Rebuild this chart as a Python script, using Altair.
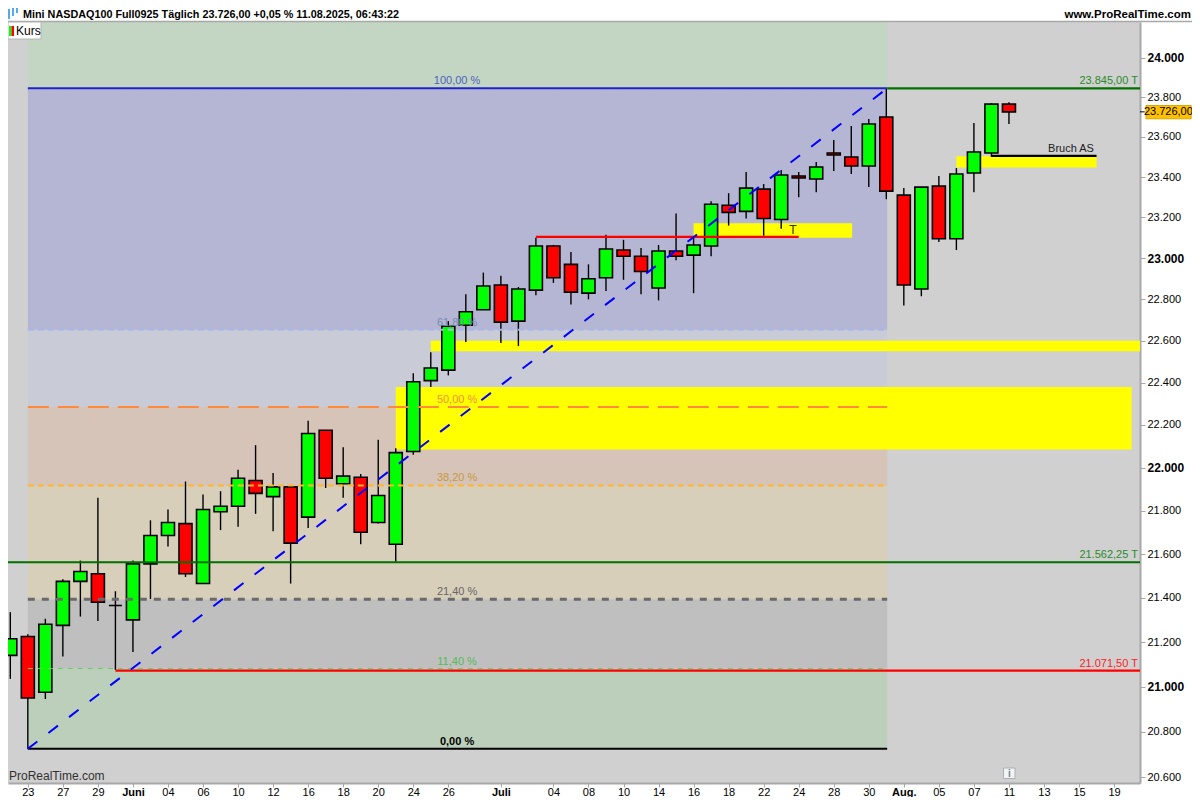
import altair as alt
import pandas as pd

# --- Daily candles ---
opens = [21140,21225,20975,21275,21475,21510,21365,21300,21555,21685,21740,21465,21795,21820,21940,21865,21910,21770,22175,21925,
         21955,21745,21645,22075,22410,22460,22675,22750,22870,22695,22845,23060,22970,22830,22905,23040,23010,22855,23035,23015,
         23060,23260,23230,23340,23190,23405,23390,23520,23500,23455,23700,23310,22850,23355,23095,23420,23520,23765]
highs = [21335,21235,21305,21485,21570,21860,21430,21570,21755,21805,21935,21875,21890,21990,22105,21975,21915,22220,22175,22095,
         21970,22130,22090,22445,22545,22695,22825,22930,22915,22860,23100,23065,23030,22970,23115,23090,23050,23065,23220,23105,
         23280,23320,23425,23365,23435,23425,23475,23585,23655,23690,23845,23345,23350,23405,23445,23670,23770,23775]
lows = [21035,20725,20945,21135,21315,21295,21075,21155,21395,21635,21495,21465,21710,21725,21785,21705,21465,21720,21905,21860,
        21645,21740,21565,22060,22380,22435,22595,22750,22590,22575,22820,22880,22775,22800,22840,22895,22825,22795,22990,22830,
        23010,23160,23195,23110,23145,23300,23325,23430,23415,23350,23290,22770,22815,23080,23040,23325,23500,23665]
closes = [21215,20950,21280,21475,21520,21380,21365,21555,21685,21745,21510,21805,21820,21950,21880,21910,21650,22160,21950,21960,
          21700,21870,22070,22405,22470,22670,22740,22865,22690,22850,23060,22905,22835,22900,23045,23010,22935,23035,23010,23065,
          23265,23225,23345,23195,23410,23395,23450,23510,23455,23665,23330,22870,23350,23095,23415,23525,23765,23726]

# --- Axis ticks ---
x_ticks = [1,3,5,7,9,11,13,15,17,19,21,23,25,28,31,33,35,37,39,41,43,45,47,49,51,53,55,57,59,61,63]
x_labels = ["23","27","29","Juni","04","06","10","12","16","18","20","24","26","Juli","04","08","10","14","16","18","22",
            "24","28","30","Aug.","05","07","11","13","15","19"]
y_ticks = [20600,20800,21000,21200,21400,21600,21800,22000,22200,22400,22600,22800,23000,23200,23400,23600,23800,24000]

# --- Fibonacci retracement ---
fib_low, fib_high = 20725, 23845
fib_left, fib_right = 1, 50.05
fib_edges = [20725, 21081, 21393, 21917, 22285, 22653, 23845, 24183]
fib_fills = ["#bbcfbb", "#bfbfbf", "#d8cfba", "#d6c4b9", "#c9ccd6", "#b5b6d3", "#c3d6c3"]
fib_values = [23845, 22653, 22285, 21917, 21393, 21081, 20725]
fib_names = ["100,00 %", "61,80 %", "50,00 %", "38,20 %", "21,40 %", "11,40 %", "0,00 %"]
fib_colors = ["#2222cc", "#a8b8ea", "#ff8a3c", "#ffb52e", "#6a6a6a", "#66cc66", "#000000"]
fib_widths = [2, 2, 2, 2, 3, 1, 2]
fib_dashes = [[1, 0], [6, 4], [21, 9], [6, 4], [7, 7], [5, 5], [1, 0]]
fib_text = ["#5060c0", "#7888b8", "#f59040", "#c8983c", "#666666", "#55bb55", "#000000"]

# --- Yellow zones ---
zone_x0 = [22, 24, 39, 54]
zone_x1 = [64.0, 64.48, 48.05, 62.0]
zone_lo = [22085, 22550, 23100, 23447]
zone_hi = [22380, 22600, 23172, 23503]

FONT = "Liberation Sans"
sx = alt.Scale(domain=[-0.1313, 64.48], nice=False, zero=False, padding=0)
sy = alt.Scale(type="log", domain=[20575, 24183], nice=False, zero=False)

AX = alt.Axis(
    values=x_ticks,
    labelExpr="{" + ",".join(f'"{t}":"{l}"' for t, l in zip(x_ticks, x_labels)) + "}[datum.value]",
    grid=False, domainColor="#a8a8a8", domainWidth=2, tickColor="#a8a8a8", tickSize=4,
    labelColor="#000000", labelFont=FONT, labelFontSize=11, labelPadding=-1,
    labelFontWeight=alt.expr("indexof([7,28,51],datum.value)>=0?'bold':'normal'"),
    labelOverlap=False, labelFlush=False, title=None)
AY = alt.Axis(
    orient="right", values=y_ticks,
    labelExpr="replace(format(datum.value,',d'),',','.')", grid=False,
    domainColor="#a8a8a8", domainWidth=2, tickColor="#a8a8a8", tickSize=5,
    labelColor="#000000", labelFont=FONT, labelPadding=2,
    labelFontSize=alt.expr("datum.value%1000==0?12:11"),
    labelFontWeight=alt.expr("datum.value%1000==0?'bold':'normal'"),
    labelOverlap=False, labelFlush=False, title=None)

idx = list(range(len(opens)))
candles = pd.DataFrame({"i": idx, "o": opens, "h": highs, "l": lows, "c": closes})
candles["bottom"] = candles[["o", "c"]].min(axis=1)
candles["top"] = candles[["o", "c"]].max(axis=1)
candles["dir"] = ["up" if c >= o else "down" for o, c in zip(opens, closes)]

X = alt.X("i:Q", scale=sx, axis=AX)
Y = alt.Y("y:Q", scale=sy, axis=AY)

layers = []

# fib zones
zones = pd.DataFrame({
    "i": [fib_left] * 7, "i2": [fib_right] * 7,
    "y": fib_edges[:-1], "y2": fib_edges[1:], "fill": fib_fills,
})
layers.append(alt.Chart(zones).mark_rect().encode(
    x=X, x2="i2:Q", y=Y, y2="y2:Q", fill=alt.Fill("fill:N", scale=None)))

# yellow zones
yz = pd.DataFrame({"i": zone_x0, "i2": zone_x1, "y": zone_lo, "y2": zone_hi})
layers.append(alt.Chart(yz).mark_rect(fill="#ffff00").encode(x=X, x2="i2:Q", y=Y, y2="y2:Q"))

# candles
layers.append(alt.Chart(candles).mark_rule(color="#000000", strokeWidth=1.4).encode(
    x=X, y=alt.Y("l:Q", scale=sy, axis=AY), y2="h:Q"))
layers.append(alt.Chart(candles).mark_bar(size=13, stroke="#000000", strokeWidth=1.6, orient="vertical").encode(
    x=X, y=alt.Y("bottom:Q", scale=sy, axis=AY), y2="top:Q",
    fill=alt.Fill("dir:N", scale=alt.Scale(domain=["up", "down"], range=["#00ff00", "#ff0000"]), legend=None)))

# fib lines
for v, col, w, d in zip(fib_values, fib_colors, fib_widths, fib_dashes):
    layers.append(alt.Chart(pd.DataFrame({"i": [fib_left], "i2": [fib_right], "y": [v]})).mark_rule(
        color=col, strokeWidth=w, strokeDash=d).encode(x=X, x2="i2:Q", y=Y))

# horizontal support / resistance lines
hl_x0 = [50.05, -0.1313, 6, 30, 56]
hl_x1 = [64.48, 64.48, 64.48, 45, 62]
hl_y = [23845, 21562.25, 21071.5, 23105, 23505]
hl_col = ["#007000", "#007000", "#ff0000", "#ff0000", "#000000"]
for a, b, v, col in zip(hl_x0, hl_x1, hl_y, hl_col):
    layers.append(alt.Chart(pd.DataFrame({"i": [a], "i2": [b], "y": [v]})).mark_rule(
        color=col, strokeWidth=2.2).encode(x=X, x2="i2:Q", y=Y))

# diagonal trend line
layers.append(alt.Chart(pd.DataFrame({"i": [fib_left, fib_right], "y": [fib_low, fib_high]})).mark_line(
    color="#0000ff", strokeWidth=2, strokeDash=[12, 14]).encode(x=X, y=Y))

# fib labels
for v, name, col in zip(fib_values, fib_names, fib_text):
    layers.append(alt.Chart(pd.DataFrame({"i": [25.5], "y": [v], "t": [name]})).mark_text(
        font=FONT, fontSize=11, color=col, dy=-7, align="center", baseline="middle",
        fontWeight="bold" if name == "0,00 %" else "normal").encode(x=X, y=Y, text="t:N"))

# line labels on the right
r_vals = [23845, 21562.25, 21071.5]
r_text = ["23.845,00 T", "21.562,25 T", "21.071,50 T"]
r_col = ["#2a8a2a", "#2a8a2a", "#ff2020"]
for v, t, col in zip(r_vals, r_text, r_col):
    layers.append(alt.Chart(pd.DataFrame({"i": [64.36], "y": [v], "t": [t]})).mark_text(
        font=FONT, fontSize=11, color=col, dy=-7, align="right", baseline="middle").encode(x=X, y=Y, text="t:N"))
layers.append(alt.Chart(pd.DataFrame({"i": [61.85], "y": [23505], "t": ["Bruch AS"]})).mark_text(
    font=FONT, fontSize=11, color="#202020", dy=-7, align="right", baseline="middle").encode(x=X, y=Y, text="t:N"))
layers.append(alt.Chart(pd.DataFrame({"i": [44.67], "y": [23105], "t": ["T"]})).mark_text(
    font=FONT, fontSize=12, color="#303000", dy=-7, align="center", baseline="middle").encode(x=X, y=Y, text="t:N"))

# last price badge
layers.append(alt.Chart(pd.DataFrame({"i": [64.48], "i2": [64.75], "y": [23726]})).mark_rule(
    color="#000000", strokeWidth=1, clip=False).encode(x=X, x2="i2:Q", y=Y))
layers.append(alt.Chart(pd.DataFrame({"i": [64.82], "i2": [67.4], "y": [23691], "y2": [23758]})).mark_rect(
    fill="#ffc000", stroke="#d8a800", strokeWidth=1, clip=False).encode(x=X, x2="i2:Q", y=Y, y2="y2:Q"))
layers.append(alt.Chart(pd.DataFrame({"i": [66.1], "y": [23726], "t": ["23.726,00"]})).mark_text(
    font=FONT, fontSize=11, color="#000000", align="center", baseline="middle", clip=False).encode(x=X, y=Y, text="t:N"))

# --- Window furniture (page position minus the plot's origin) ---
def px(x, y):
    return dict(x=alt.value(x - 8), y=alt.value(y - 22))

def txt(label, x, y, size, weight="normal", color="#000000", align="left"):
    return alt.Chart(pd.DataFrame({"t": [label]})).mark_text(
        font=FONT, fontSize=size, fontWeight=weight, color=color, align=align, baseline="middle"
    ).encode(text="t:N", **px(x, y))

def box(x0, y0, x1, y1, fill, stroke=None):
    kw = {"fill": fill}
    if stroke:
        kw.update(stroke=stroke, strokeWidth=1)
    return alt.Chart(pd.DataFrame({"a": [0]})).mark_rect(**kw).encode(
        x=alt.value(x0 - 8), x2=alt.value(x1 - 8), y=alt.value(y0 - 22), y2=alt.value(y1 - 22))

layers += [
    alt.Chart(pd.DataFrame({"a": [0]})).mark_rule(color="#a8a8a8", strokeWidth=1.5).encode(
        x=alt.value(0), x2=alt.value(1184), y=alt.value(-0.5)),
    box(8, 9, 10, 19, "#55aaee"), box(12, 8, 14, 16, "#55aaee"), box(16, 8, 18, 13, "#55aaee"),
    txt("Mini NASDAQ100 Full0925 Täglich 23.726,00 +0,05 % 11.08.2025, 06:43:22", 23, 14.5, 10.8, "bold"),
    txt("www.ProRealTime.com", 1191, 14.5, 11.5, "bold", align="right"),
    box(8, 22, 41, 39, "#ffffff", "#b4b4b4"),
    box(9, 26, 11.5, 36, "#00ff00"), box(11.5, 26, 14, 36, "#ff0000"),
    txt("Kurs", 16, 30.5, 12),
    txt("ProRealTime.com", 9, 776, 12, color="#303030"),
    box(1003.5, 768, 1015, 778.5, "#f4f4f4", "#a8b0b8"),
    txt("i", 1009.3, 773.5, 10, "bold", "#708090", "center"),
]

chart = alt.layer(*layers).resolve_scale(fill="independent").properties(
    width=1132, height=761, background="#ffffff",
    padding={"left": 0, "top": 14, "right": 52, "bottom": 14},
    autosize=alt.AutoSizeParams(type="none"),
).configure_view(fill="#d0d0d0", stroke=None)

chart.save("out.html", embed_options={"renderer": "svg", "actions": False})
